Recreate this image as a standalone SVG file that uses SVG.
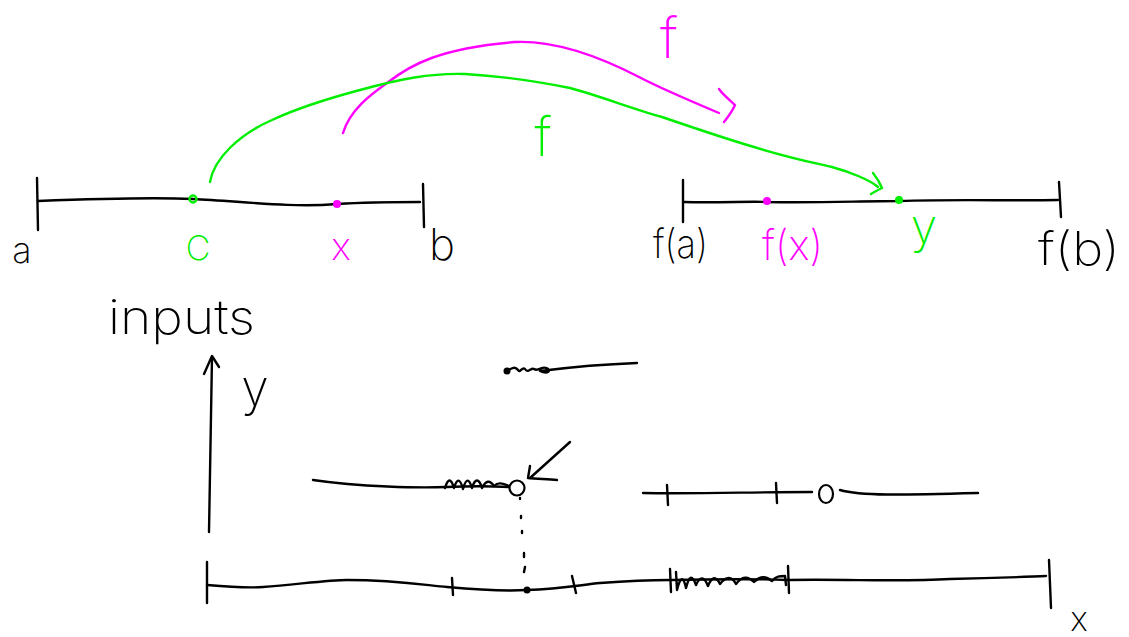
<svg xmlns="http://www.w3.org/2000/svg" width="1129" height="637" viewBox="0 0 1129 637">
<style>
.k{fill:none;stroke:#000;stroke-width:2.4;stroke-linecap:round;stroke-linejoin:round}
.g{fill:none;stroke:#00ee00;stroke-width:2.4;stroke-linecap:round;stroke-linejoin:round}
.m{fill:none;stroke:#ff00ff;stroke-width:2.4;stroke-linecap:round;stroke-linejoin:round}
text{font-family:Inter,"Liberation Sans","DejaVu Sans",sans-serif;font-weight:200}
.tk{fill:#000}.tg{fill:#00ee00}.tm{fill:#ff00ff}
</style>
<rect width="1129" height="637" fill="#fff"/>
<g id="domain-line">
<path class="k" d="M37,178 L38,230"/>
<path class="k" d="M38,201 C90,199 150,197 193,199 C240,201 290,208 337,204 C370,202 400,202 420,202"/>
<path class="k" d="M423,184 L424,227"/>
<circle cx="193" cy="199" r="3.5" fill="none" stroke="#00ee00" stroke-width="2.4"/>
<circle cx="337" cy="204" r="4" fill="#ff00ff"/>
<text class="tk" x="22" y="263" font-size="36" text-anchor="middle">a</text>
<text class="tg" x="198" y="260" font-size="34" text-anchor="middle">C</text>
<text class="tm" x="341" y="260" font-size="38" text-anchor="middle">x</text>
<text class="tk" x="442" y="260" font-size="44" text-anchor="middle">b</text>
</g>
<g id="range-line">
<path class="k" d="M683,180 L683,222"/>
<path class="k" d="M684,202 C720,203 750,201 767,202 C820,203 860,201 899,201 C960,199 1010,201 1058,200"/>
<path class="k" d="M1059,182 L1061,217"/>
<circle cx="767" cy="201" r="4" fill="#ff00ff"/>
<circle cx="899" cy="200" r="4" fill="#00ee00"/>
<text class="tk" x="653" y="258" font-size="40" textLength="55" lengthAdjust="spacingAndGlyphs">f(a)</text>
<text class="tm" x="762" y="260" font-size="42" textLength="61" lengthAdjust="spacingAndGlyphs">f(x)</text>
<text class="tg" x="924" y="243" font-size="48" text-anchor="middle">y</text>
<text class="tk" x="1038" y="265" font-size="46" textLength="82" lengthAdjust="spacingAndGlyphs">f(b)</text>
</g>
<g id="connectors">
<path class="m" d="M343,133 C350,110 370,95 387,83 C410,65 440,48 515,42 C560,40 610,62 639,77 C660,88 700,105 719,113"/>
<path class="m" d="M719,89 C724,96 730,100 735,105 C732,112 728,117 724,122"/>
<path class="g" d="M210,182 C214,158 240,134 272,120 C300,107 330,98 360,90 C400,79 430,73 465,74 C500,76 540,82 570,88 C600,96 630,108 662,117 C700,130 730,140 754,147 C790,158 810,162 832,167 C850,172 870,180 878,187"/>
<path class="g" d="M873,173 C877,178 880,183 882,188 C878,190 874,192 871,194"/>
<text class="tm" x="669" y="58" font-size="56" text-anchor="middle">f</text>
<text class="tg" x="543" y="156" font-size="54" text-anchor="middle">f</text>
</g>
<g id="inputs-label">
<text class="tk" x="108" y="334" font-size="48" textLength="147" lengthAdjust="spacingAndGlyphs">inputs</text>
</g>
<g id="y-axis">
<path class="k" d="M209,532 C210,480 211,420 212,357"/>
<path class="k" d="M204,374 L212,356 L219,367"/>
<text class="tk" x="255" y="406" font-size="50" text-anchor="middle">y</text>
</g>
<g id="graph-top-segment">
<circle cx="507" cy="371" r="3.5" fill="#000"/>
<path class="k" d="M507,371 C512,368 515,366 518,370 C520,374 522,366 525,369 C528,374 531,367 534,369 C538,372 542,366 546,368 C552,370 548,375 540,371 C580,366 610,364 637,363"/>
</g>
<g id="graph-middle-left">
<path class="k" d="M313,480 C360,487 420,488 446,487 C470,486 490,486 509,487"/>
<path class="k" d="M445,488 C448,478 451,478 454,488 C457,478 460,478 463,489 C466,478 469,478 472,488 C475,478 479,478 482,488 C486,480 490,480 494,486 C498,482 502,483 509,486"/>
<circle cx="517" cy="488" r="7.5" fill="none" stroke="#000" stroke-width="2.2"/>
<path class="k" d="M570,442 L530,478"/>
<path class="k" d="M530,466 L528,478 C538,479 548,479 557,480"/>
</g>
<g id="dotted-guide">
<path class="k" d="M520,498 L520,499 M521,516 L521,518 M522,531 L522,533 M524,553 L524,557 M525,567 L524,572"/>
</g>
<g id="graph-middle-right">
<path class="k" d="M643,493 C700,494 750,492 812,492"/>
<path class="k" d="M667,485 L668,505"/>
<path class="k" d="M776,483 L777,503"/>
<ellipse cx="826" cy="494" rx="7" ry="9" fill="none" stroke="#000" stroke-width="2.2"/>
<path class="k" d="M840,490 C860,496 900,495 978,493"/>
</g>
<g id="x-axis">
<path class="k" d="M207,562 L207,603"/>
<path class="k" d="M207,585 C230,587 250,588 263,587 C300,584 330,580 347,580 C400,580 430,586 447,587 C480,590 510,591 527,590 C560,589 580,585 600,583 C640,580 660,580 670,580 C720,579 760,579 788,580 C850,579 900,582 950,579 C1000,578 1020,577 1046,576"/>
<path class="k" d="M452,578 L453,595" stroke-width="3.2"/>
<circle cx="527" cy="590" r="3.5" fill="#000"/>
<path class="k" d="M572,576 L576,593"/>
<path class="k" d="M670,569 L671,592" stroke-width="3.5"/>
<path class="k" d="M788,566 L789,593" stroke-width="3.5"/>
<path class="k" d="M676,572 L677,590 C680,578 683,574 686,588 C689,576 692,574 696,585 C700,576 704,576 708,586 C712,576 716,576 720,584 C726,576 732,576 736,584 C742,576 748,576 754,582 C760,576 766,576 772,581 C776,576 780,576 785,576 L786,585"/>
<path class="k" d="M1049,560 L1051,608"/>
<text class="tk" x="1079" y="631" font-size="34" text-anchor="middle">x</text>
</g>
</svg>
